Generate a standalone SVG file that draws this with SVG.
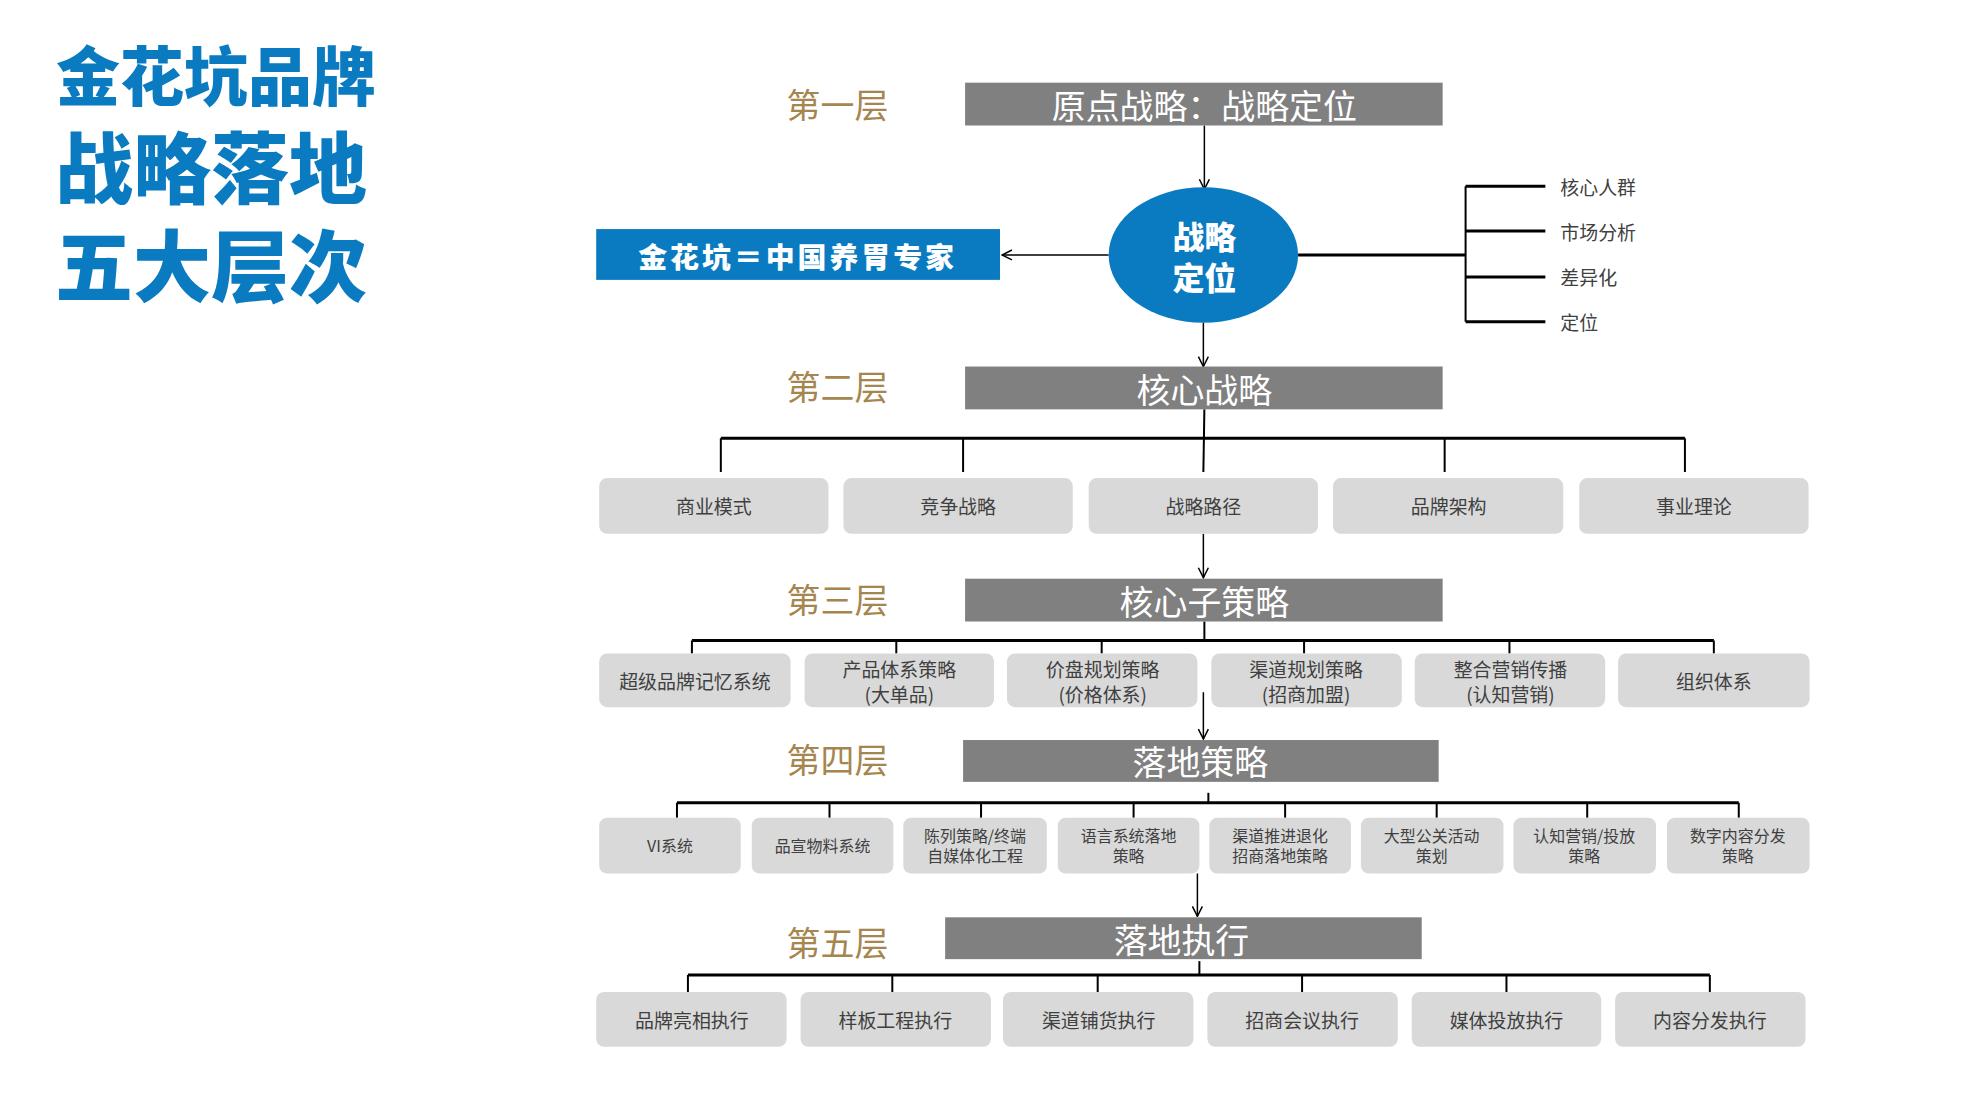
<svg xmlns="http://www.w3.org/2000/svg" width="1971" height="1107" viewBox="0 0 1971 1107">
<style>
text{font-family:"Noto Sans CJK SC","Liberation Sans",sans-serif}
.title{fill:#0a7bc1;font-weight:900}
.lvl{fill:#a6864f;font-size:34px}
.hd{fill:#808080}
.hdt{fill:#fff;font-size:34px;text-anchor:middle;dominant-baseline:central}
.bx{fill:#d9d9d9}
.bt{fill:#404040;font-size:19px;text-anchor:middle;dominant-baseline:central}
.st{fill:#404040;font-size:16px;text-anchor:middle;dominant-baseline:central}
.ln{stroke:#000;stroke-width:2;fill:none}
.bus{stroke:#000;stroke-width:3;fill:none}
.ar{stroke:#000;stroke-width:1.5;fill:none;marker-end:url(#a)}
.side{fill:#404040;font-size:19px;dominant-baseline:central}
</style>
<defs><marker id="a" viewBox="0 0 12 12" refX="11" refY="6" markerWidth="12" markerHeight="12" markerUnits="userSpaceOnUse" orient="auto"><polyline points="1,1 11,6 1,11" fill="none" stroke="#000" stroke-width="1.5"/></marker></defs>
<g id="title">
<text class="title" x="56" y="100" font-size="64">金花坑品牌</text>
<text class="title" x="55" y="198" font-size="78">战略落地</text>
<text class="title" x="55" y="296" font-size="78">五大层次</text>
</g>
<g transform="translate(-2,0) scale(0.997,0.996)">
<g id="levels">
<text class="lvl" x="791" y="118">第一层</text>
<text class="lvl" x="791" y="402">第二层</text>
<text class="lvl" x="791" y="615">第三层</text>
<text class="lvl" x="791" y="776">第四层</text>
<text class="lvl" x="791" y="960">第五层</text>
</g>
<g id="connectors">
<line class="ar" x1="1210" y1="126" x2="1210" y2="190"/>
<line class="ar" x1="1209" y1="324" x2="1209" y2="368"/>
<line class="ar" x1="1114" y1="256" x2="1007" y2="256"/>
<line class="bus" x1="1304" y1="256" x2="1472" y2="256"/>
<line class="ln" x1="1472" y1="187" x2="1472" y2="323"/>
<line class="bus" x1="1472" y1="187" x2="1552" y2="187"/>
<line class="bus" x1="1472" y1="232" x2="1552" y2="232"/>
<line class="bus" x1="1472" y1="278" x2="1552" y2="278"/>
<line class="bus" x1="1472" y1="323" x2="1552" y2="323"/>
<line class="ln" x1="1210" y1="411" x2="1209" y2="474"/>
<line class="bus" x1="725" y1="440" x2="1692" y2="440"/>
<path class="ln" d="M725 440V474M968 440V474M1451 440V474M1692 440V474"/>
<line class="ar" x1="1209" y1="536" x2="1209" y2="580"/>
<line class="ln" x1="1210" y1="624" x2="1210" y2="643"/>
<line class="bus" x1="696" y1="643" x2="1721" y2="643"/>
<path class="ln" d="M696 643V656M901 643V656M1107 643V656M1310 643V656M1516 643V656M1721 643V656"/>
<line class="ar" x1="1209" y1="695" x2="1209" y2="742"/>
<line class="ln" x1="1214" y1="796" x2="1214" y2="806"/>
<line class="bus" x1="681" y1="806" x2="1746" y2="806"/>
<path class="ln" d="M681 806V821M834 806V821M986 806V821M1139 806V821M1291 806V821M1443 806V821M1594 806V821M1746 806V821"/>
<line class="ar" x1="1203" y1="877" x2="1203" y2="920"/>
<line class="ln" x1="1205" y1="965" x2="1205" y2="979"/>
<line class="bus" x1="692" y1="979" x2="1717" y2="979"/>
<path class="ln" d="M692 979V996M897 979V996M1103 979V996M1308 979V996M1513 979V996M1717 979V996"/>
</g>
<g id="n1"><rect class="hd" x="970" y="83" width="479" height="43"/><text class="hdt" x="1210" y="105">原点战略：战略定位</text></g>
<g id="ellipse"><ellipse cx="1209" cy="256" rx="95" ry="68" fill="#0a7bc1"/><text x="1210" y="236" fill="#fff" font-size="32" font-weight="900" text-anchor="middle" dominant-baseline="central">战略</text><text x="1210" y="277" fill="#fff" font-size="32" font-weight="900" text-anchor="middle" dominant-baseline="central">定位</text></g>
<g id="brand"><rect x="600" y="230" width="405" height="51" fill="#0a7bc1"/><text x="802" y="256" fill="#fff" font-size="29" font-weight="900" text-anchor="middle" dominant-baseline="central" letter-spacing="3">金花坑＝中国养胃专家</text></g>
<g id="side"><text class="side" x="1567" y="187">核心人群</text><text class="side" x="1567" y="232">市场分析</text><text class="side" x="1567" y="278">差异化</text><text class="side" x="1567" y="323">定位</text></g>
<g id="n2"><rect class="hd" x="970" y="368" width="479" height="43"/><text class="hdt" x="1210" y="390">核心战略</text></g>
<g id="row2">
<rect class="bx" x="603" y="480" width="230" height="56" rx="8"/><text class="bt" x="718" y="508">商业模式</text>
<rect class="bx" x="848" y="480" width="230" height="56" rx="8"/><text class="bt" x="963" y="508">竞争战略</text>
<rect class="bx" x="1094" y="480" width="230" height="56" rx="8"/><text class="bt" x="1209" y="508">战略路径</text>
<rect class="bx" x="1339" y="480" width="231" height="56" rx="8"/><text class="bt" x="1455" y="508">品牌架构</text>
<rect class="bx" x="1586" y="480" width="230" height="56" rx="8"/><text class="bt" x="1701" y="508">事业理论</text>
</g>
<g id="n3"><rect class="hd" x="970" y="581" width="479" height="43"/><text class="hdt" x="1210" y="603">核心子策略</text></g>
<g id="row3">
<rect class="bx" x="603" y="656" width="192" height="54" rx="8"/><text class="bt" x="699" y="683">超级品牌记忆系统</text>
<rect class="bx" x="809" y="656" width="190" height="54" rx="8"/><text class="bt" x="904" y="671">产品体系策略</text><text class="bt" x="904" y="696">(大单品)</text>
<rect class="bx" x="1012" y="656" width="191" height="54" rx="8"/><text class="bt" x="1108" y="671">价盘规划策略</text><text class="bt" x="1108" y="696">(价格体系)</text>
<rect class="bx" x="1217" y="656" width="191" height="54" rx="8"/><text class="bt" x="1312" y="671">渠道规划策略</text><text class="bt" x="1312" y="696">(招商加盟)</text>
<rect class="bx" x="1421" y="656" width="191" height="54" rx="8"/><text class="bt" x="1517" y="671">整合营销传播</text><text class="bt" x="1517" y="696">(认知营销)</text>
<rect class="bx" x="1625" y="656" width="192" height="54" rx="8"/><text class="bt" x="1721" y="683">组织体系</text>
</g>
<g id="n4"><rect class="hd" x="968" y="743" width="477" height="42"/><text class="hdt" x="1206" y="764">落地策略</text></g>
<g id="row4">
<rect class="bx" x="603" y="821" width="142" height="56" rx="8"/><text class="st" x="674" y="849">VI系统</text>
<rect class="bx" x="756" y="821" width="142" height="56" rx="8"/><text class="st" x="827" y="849">品宣物料系统</text>
<rect class="bx" x="908" y="821" width="144" height="56" rx="8"/><text class="st" x="980" y="839">陈列策略/终端</text><text class="st" x="980" y="859">自媒体化工程</text>
<rect class="bx" x="1063" y="821" width="142" height="56" rx="8"/><text class="st" x="1134" y="839">语言系统落地</text><text class="st" x="1134" y="859">策略</text>
<rect class="bx" x="1215" y="821" width="142" height="56" rx="8"/><text class="st" x="1286" y="839">渠道推进退化</text><text class="st" x="1286" y="859">招商落地策略</text>
<rect class="bx" x="1367" y="821" width="143" height="56" rx="8"/><text class="st" x="1438" y="839">大型公关活动</text><text class="st" x="1438" y="859">策划</text>
<rect class="bx" x="1520" y="821" width="143" height="56" rx="8"/><text class="st" x="1591" y="839">认知营销/投放</text><text class="st" x="1591" y="859">策略</text>
<rect class="bx" x="1674" y="821" width="143" height="56" rx="8"/><text class="st" x="1745" y="839">数字内容分发</text><text class="st" x="1745" y="859">策略</text>
</g>
<g id="n5"><rect class="hd" x="950" y="921" width="478" height="42"/><text class="hdt" x="1187" y="942">落地执行</text></g>
<g id="row5">
<rect class="bx" x="600" y="996" width="191" height="55" rx="8"/><text class="bt" x="696" y="1024">品牌亮相执行</text>
<rect class="bx" x="805" y="996" width="191" height="55" rx="8"/><text class="bt" x="900" y="1024">样板工程执行</text>
<rect class="bx" x="1008" y="996" width="191" height="55" rx="8"/><text class="bt" x="1104" y="1024">渠道铺货执行</text>
<rect class="bx" x="1213" y="996" width="191" height="55" rx="8"/><text class="bt" x="1308" y="1024">招商会议执行</text>
<rect class="bx" x="1418" y="996" width="190" height="55" rx="8"/><text class="bt" x="1513" y="1024">媒体投放执行</text>
<rect class="bx" x="1622" y="996" width="191" height="55" rx="8"/><text class="bt" x="1717" y="1024">内容分发执行</text>
</g>
</g>
</svg>
